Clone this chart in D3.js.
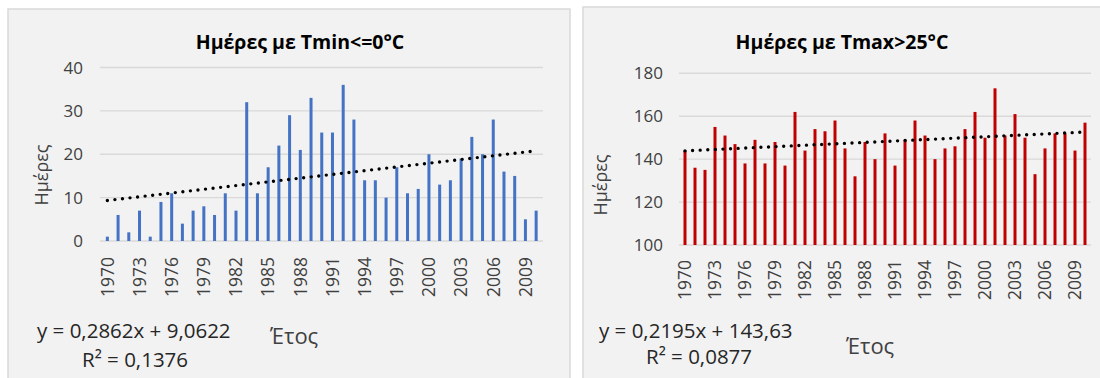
<!DOCTYPE html>
<html><head><meta charset="utf-8">
<script src="https://cdn.jsdelivr.net/npm/d3@7"></script>
<style>body{margin:0;background:#fff}svg{display:block}text{font-family:"Open Sans",sans-serif}</style>
</head><body><svg id="c" width="1100" height="378"></svg>
<script>
const years = d3.range(1970, 2011);
const yearTicks = [1970,1973,1976,1979,1982,1985,1988,1991,1994,1997,2000,2003,2006,2009];
const frostDays = [1,6,2,7,1,9,11,4,7,8,6,11,7,32,11,17,22,29,21,33,25,25,36,28,14,14,10,17,11,12,20,13,14,19,24,20,28,16,15,5,7];
const hotDays = [144,136,135,155,151,147,138,149,138,148,137,162,144,154,153,158,145,132,148,140,152,137,149,158,151,140,145,146,154,162,150,173,151,161,150,133,145,152,152,144,157];
const frostTicks = [0,10,20,30,40];
const hotTicks = [100,120,140,160,180];
const frostTrend = {a:0.2862, b:9.0622, eq:"y = 0,2862x + 9,0622", r2:"R² = 0,1376"};
const hotTrend = {a:0.2195, b:143.63, eq:"y = 0,2195x + 143,63", r2:"R² = 0,0877"};

const svg = d3.select("#c");

function panel(o){
  const g = svg.append("g");
  g.append("rect").attr("x",o.px).attr("y",o.py).attr("width",o.pw).attr("height",400)
    .attr("fill","#f2f2f2").attr("stroke","#d9d9d9").attr("stroke-width",1.5);
  const x = d3.scaleBand().domain(years).range([o.x0,o.x1]);
  const y = d3.scaleLinear().domain(o.dom).range([o.y0,o.y1]);
  g.selectAll(".grid").data(o.ticks).join("line")
    .attr("x1",o.gx0).attr("x2",o.gx1).attr("y1",d=>y(d)).attr("y2",d=>y(d))
    .attr("stroke","#d9d9d9").attr("stroke-width",1.4);
  g.selectAll(".yt").data(o.ticks).join("text")
    .attr("x",o.tickX).attr("y",d=>y(d)).attr("dy","0.36em").attr("text-anchor","end")
    .attr("font-size",17).attr("fill","#404040").text(d=>d);
  g.selectAll(".bar").data(o.values).join("rect")
    .attr("x",(d,i)=>x(years[i])+x.bandwidth()/2-1.5).attr("width",3)
    .attr("y",d=>y(d)).attr("height",d=>y(o.dom[0])-y(d)).attr("fill",o.color);
  const tl = [1, years.length].map(k=>[x(years[k-1])+x.bandwidth()/2, y(o.trend.a*k+o.trend.b)]);
  g.append("path").attr("d",d3.line()(tl)).attr("stroke","#000").attr("stroke-width",3.4)
    .attr("stroke-linecap","round").attr("stroke-dasharray","0 7.6").attr("fill","none");
  g.selectAll(".xt").data(yearTicks).join("text")
    .attr("transform",d=>`translate(${x(d)+x.bandwidth()/2},${o.xlabY}) rotate(-90)`)
    .attr("dy","0.36em").attr("text-anchor","end").attr("font-size",17.5).attr("fill","#404040").text(d=>d);
  g.append("text").attr("x",o.titleX).attr("y",49).attr("text-anchor","middle")
    .attr("font-size",19.5).attr("font-weight","bold").attr("fill","#000").text(o.title);
  g.append("text").attr("transform",`translate(${o.ytX},${o.ytY}) rotate(-90)`)
    .attr("text-anchor","middle").attr("dy","0.36em").attr("font-size",18).attr("fill","#404040").text("Ημέρες");
  g.append("text").attr("x",o.xtX).attr("y",o.xtY).attr("font-size",22).attr("fill","#404040").text("Έτος");
  g.append("text").attr("x",o.eqX).attr("y",338).attr("font-size",20.5).attr("fill","#262626").text(o.trend.eq);
  g.append("text").attr("x",o.r2X).attr("y",o.r2Y).attr("font-size",20.5).attr("fill","#262626").text(o.trend.r2);
}

panel({px:8,py:9,pw:562,x0:102,x1:541.5,y0:241,y1:67.5,dom:[0,40],ticks:frostTicks,values:frostDays,
  color:"#4472c4",trend:frostTrend,gx0:100,gx1:543,tickX:83,xlabY:257,title:"Ημέρες με Tmin<=0°C",titleX:300,
  ytX:42,ytY:175,xtX:270,xtY:344,eqX:37,r2X:82,r2Y:367});
panel({px:583,py:7,pw:530,x0:680,x1:1090,y0:245,y1:73.3,dom:[100,180],ticks:hotTicks,values:hotDays,
  color:"#c00000",trend:hotTrend,gx0:679,gx1:1091,tickX:663,xlabY:260,title:"Ημέρες με Tmax>25°C",titleX:842,
  ytX:601,ytY:185,xtX:846,xtY:354,eqX:599,r2X:646,r2Y:364});
</script></body></html>
